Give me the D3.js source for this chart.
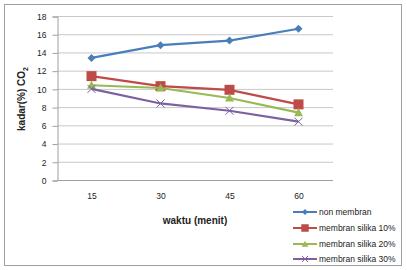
<!DOCTYPE html>
<html>
<head>
<meta charset="utf-8">
<script src="https://cdn.jsdelivr.net/npm/d3@7"></script>
<style>
  body { margin: 0; background: #fff; }
  svg { font-family: "Liberation Sans", Arial, sans-serif; }
</style>
</head>
<body>
<div id="chart"></div>
<script>
// chart data
const categories = ["15", "30", "45", "60"];
const seriesNames = ["non membran", "membran silika 10%", "membran silika 20%", "membran silika 30%"];
const nonMembran = [13.4, 14.8, 15.3, 16.6];
const silika10 = [11.4, 10.3, 9.9, 8.3];
const silika20 = [10.4, 10.1, 9.0, 7.4];
const silika30 = [10.0, 8.4, 7.6, 6.4];
const yTicks = [0, 2, 4, 6, 8, 10, 12, 14, 16, 18];

function init() {
    const width = 407;
    const height = 270;
    const colors = ["#4a7ebb", "#be4b48", "#98b954", "#7d60a0"];
    const markers = ["diamond", "square", "triangle", "cross"];
    const allSeries = [nonMembran, silika10, silika20, silika30];

    const svg = d3.select("#chart").append("svg")
        .attr("width", width)
        .attr("height", height);

    // outer chart border
    svg.append("rect")
        .attr("x", 4.5).attr("y", 4.5)
        .attr("width", 397).attr("height", 261)
        .attr("fill", "#fff")
        .attr("stroke", "#a0a0a0");

    const plot = { left: 57, right: 333, top: 16, bottom: 180 };

    const x = d3.scalePoint()
        .domain(categories)
        .range([plot.left, plot.right])
        .padding(0.5);

    const y = d3.scaleLinear()
        .domain([0, 18])
        .range([plot.bottom, plot.top]);

    // gridlines
    svg.append("g")
        .selectAll("line")
        .data(yTicks.filter(d => d > 0))
        .enter().append("line")
        .attr("x1", plot.left).attr("x2", plot.right)
        .attr("y1", d => y(d) + 0.5).attr("y2", d => y(d) + 0.5)
        .attr("stroke", "#c8c8c8");

    // y axis
    const yAxis = svg.append("g")
        .attr("transform", `translate(${plot.left + 0.5},0.5)`)
        .call(d3.axisLeft(y).tickValues(yTicks).tickSize(5).tickPadding(6));
    yAxis.select(".domain").attr("stroke", "#a0a0a0");
    yAxis.selectAll(".tick line").attr("stroke", "#a0a0a0");
    yAxis.selectAll("text").attr("font-size", 8.5).attr("fill", "#222");

    // x axis
    const xAxis = svg.append("g")
        .attr("transform", `translate(0,${plot.bottom + 0.5})`)
        .call(d3.axisBottom(x).tickSize(0).tickPadding(12));
    xAxis.select(".domain").attr("stroke", "#a0a0a0")
        .attr("d", `M${plot.left},0H${plot.right}`);
    xAxis.selectAll("text").attr("font-size", 8.5).attr("fill", "#222");

    // axis titles
    svg.append("text")
        .attr("x", 195).attr("y", 224)
        .attr("text-anchor", "middle")
        .attr("font-size", 10).attr("font-weight", "bold")
        .attr("fill", "#222")
        .text("waktu (menit)");

    const yTitle = svg.append("text")
        .attr("transform", "translate(25,99) rotate(-90)")
        .attr("text-anchor", "middle")
        .attr("font-size", 10).attr("font-weight", "bold")
        .attr("fill", "#222");
    yTitle.append("tspan").text("kadar(%) CO");
    yTitle.append("tspan").attr("font-size", 7).attr("dy", 3).text("2");

    const line = d3.line()
        .x((d, i) => x(categories[i]))
        .y(d => y(d));

    function drawMarker(g, type, cx, cy, color, s) {
        if (type === "diamond") {
            g.append("path")
                .attr("d", `M${cx},${cy - s}L${cx + s},${cy}L${cx},${cy + s}L${cx - s},${cy}Z`)
                .attr("fill", color);
        } else if (type === "square") {
            g.append("rect")
                .attr("x", cx - s).attr("y", cy - s)
                .attr("width", 2 * s).attr("height", 2 * s)
                .attr("fill", color);
        } else if (type === "triangle") {
            g.append("path")
                .attr("d", `M${cx},${cy - s}L${cx + s},${cy + s * 0.8}L${cx - s},${cy + s * 0.8}Z`)
                .attr("fill", color);
        } else {
            g.append("path")
                .attr("d", `M${cx - s},${cy - s}L${cx + s},${cy + s}M${cx - s},${cy + s}L${cx + s},${cy - s}`)
                .attr("stroke", color).attr("stroke-width", 1);
        }
    }

    const markerSize = [4, 5, 4.5, 4];

    allSeries.forEach((vals, k) => {
        const g = svg.append("g");
        g.append("path")
            .datum(vals)
            .attr("d", line)
            .attr("fill", "none")
            .attr("stroke", colors[k])
            .attr("stroke-width", 2.2);
        vals.forEach((v, i) => drawMarker(g, markers[k], x(categories[i]), y(v), colors[k], markerSize[k]));
    });

    // legend
    const legend = svg.append("g");
    const legendY = [212, 228, 244, 259];
    seriesNames.forEach((name, k) => {
        const ly = legendY[k];
        legend.append("line")
            .attr("x1", 293).attr("x2", 317)
            .attr("y1", ly).attr("y2", ly)
            .attr("stroke", colors[k]).attr("stroke-width", 2);
        drawMarker(legend, markers[k], 305, ly, colors[k], markerSize[k] * 0.75);
        legend.append("text")
            .attr("x", 319).attr("y", ly + 3)
            .attr("font-size", 8.5).attr("fill", "#222")
            .text(name);
    });
}
window.onload = init;
</script>
</body>
</html>
